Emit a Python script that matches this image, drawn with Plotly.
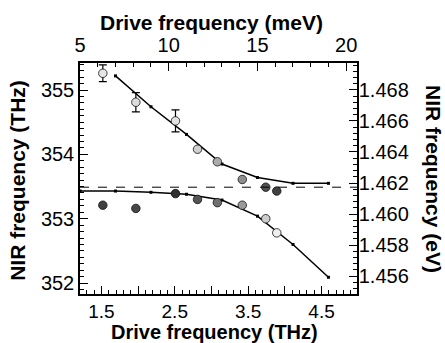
import plotly.graph_objects as go

# ---------------- data ----------------
# theory curves computed at drive energies 5..19 meV (converted to THz)
theory_upper_x = [1.693, 2.176, 2.660, 3.143, 3.627, 4.111, 4.594]
theory_upper_y = [355.22, 354.74, 354.31, 353.85, 353.64, 353.55, 353.55]
theory_lower_x = [1.209, 1.693, 2.176, 2.660, 3.143, 3.627, 4.111, 4.594]
theory_lower_y = [353.43, 353.43, 353.41, 353.38, 353.29, 353.04, 352.60, 352.09]

# measured sidebands
meas_x = [1.52, 1.97, 2.51, 2.81, 3.08, 3.42, 3.74, 3.89]
upper_y = [355.26, 354.81, 354.52, 354.08, 353.885, 353.61, 353.49, 353.43]
upper_err = [0.13, 0.15, 0.17]
lower_y = [353.21, 353.16, 353.39, 353.30, 353.25, 353.21, 353.00, 352.78]
upper_fill = ["#e6e6e6", "#dcdcdc", "#e2e2e2", "#cfcfcf", "#ababab", "#8f8f8f", "#505050", "#404040"]
lower_fill = ["#404040", "#474747", "#303030", "#555555", "#707070", "#9a9a9a", "#cdcdcd", "#efefef"]

bare_exciton_thz = 353.49

x_range_thz = [1.209, 4.983]
x_range_mev = [5.0, 20.61]
y_range_thz = [351.83, 355.42]
y_range_ev = [1.45484, 1.46974]

bottom_ticks = [1.5, 2.0, 2.5, 3.0, 3.5, 4.0, 4.5]
bottom_ticktext = ["1.5", "", "2.5", "", "3.5", "", "4.5"]
top_ticks = [5, 10, 15, 20]
left_ticks = [352, 353, 354, 355]
right_ticks = [1.456, 1.458, 1.460, 1.462, 1.464, 1.466, 1.468]

# ---------------- figure ----------------
FONT = "Liberation Sans, Arial, sans-serif"
fig = go.Figure()

fig.add_trace(go.Scatter(x=theory_upper_x, y=theory_upper_y, mode="lines+markers",
                         line=dict(color="black", width=1.5),
                         marker=dict(symbol="square", size=3, color="black"),
                         showlegend=False, hoverinfo="skip"))
fig.add_trace(go.Scatter(x=theory_lower_x, y=theory_lower_y, mode="lines+markers",
                         line=dict(color="black", width=1.5),
                         marker=dict(symbol="square", size=3, color="black"),
                         showlegend=False, hoverinfo="skip"))

n_err = len(upper_err)
fig.add_trace(go.Scatter(x=meas_x[:n_err], y=upper_y[:n_err], mode="markers",
                         error_y=dict(type="data", array=upper_err, color="black",
                                      thickness=1.2, width=4),
                         marker=dict(size=8.5, color=upper_fill[:n_err],
                                     line=dict(color="#111", width=0.8)),
                         showlegend=False))
fig.add_trace(go.Scatter(x=meas_x[n_err:], y=upper_y[n_err:], mode="markers",
                         marker=dict(size=8.5, color=upper_fill[n_err:],
                                     line=dict(color="#111", width=0.8)),
                         showlegend=False))
fig.add_trace(go.Scatter(x=meas_x, y=lower_y, mode="markers",
                         marker=dict(size=8.5, color=lower_fill,
                                     line=dict(color="#111", width=0.8)),
                         showlegend=False))

# invisible trace to activate secondary axes
fig.add_trace(go.Scatter(x=[x_range_mev[0]], y=[y_range_ev[0]], xaxis="x2", yaxis="y2",
                         mode="markers", marker=dict(opacity=0), showlegend=False,
                         hoverinfo="skip"))

fig.add_shape(type="line", xref="paper", x0=0, x1=1, yref="y",
              y0=bare_exciton_thz, y1=bare_exciton_thz,
              line=dict(color="black", width=1, dash="dash"))

axis_common = dict(showline=True, linecolor="black", linewidth=1.5, ticks="inside",
                   tickcolor="black", tickwidth=1.2, showgrid=False, zeroline=False,
                   automargin=False)
tick_font = dict(family=FONT, size=20, color="black")

fig.update_layout(
    width=445, height=343,
    margin=dict(l=80, r=88, t=63, b=49, autoexpand=False),
    paper_bgcolor="white", plot_bgcolor="white",
    xaxis=dict(range=x_range_thz, tickvals=bottom_ticks, ticktext=bottom_ticktext,
               ticklen=8, ticklabelstandoff=-1,
               tickfont=dict(family=FONT, size=19, color="black"),
               minor=dict(dtick=0.1, tick0=1.0, ticks="inside", ticklen=4,
                          tickcolor="black", tickwidth=1),
               **axis_common),
    xaxis2=dict(range=x_range_mev, overlaying="x", side="top", tickvals=top_ticks,
                ticklen=8, ticklabelstandoff=1, tickfont=tick_font,
                minor=dict(dtick=1, tick0=5, ticks="inside", ticklen=4,
                           tickcolor="black", tickwidth=1),
                **axis_common),
    yaxis=dict(range=y_range_thz, tickvals=left_ticks, ticklen=8, tickfont=tick_font,
               minor=dict(dtick=0.1, tick0=352, ticks="inside", ticklen=4,
                          tickcolor="black", tickwidth=1),
               **axis_common),
    yaxis2=dict(range=y_range_ev, overlaying="y", side="right", tickvals=right_ticks,
                tickformat=".3f", ticklen=8, ticklabelstandoff=-4, tickfont=tick_font,
                minor=dict(dtick=0.0004, tick0=1.456, ticks="inside", ticklen=4,
                           tickcolor="black", tickwidth=1),
                **axis_common),
)

title_font = dict(family=FONT, size=21, color="black")
fig.add_annotation(text="<b>Drive frequency (meV)</b>", xref="paper", yref="paper",
                   x=0.473, y=1.177, showarrow=False, font=title_font,
                   xanchor="center", yanchor="middle")
fig.add_annotation(text="<b>Drive frequency (THz)</b>", xref="paper", yref="paper",
                   x=0.484, y=-0.166, showarrow=False,
                   font=dict(family=FONT, size=20, color="black"),
                   xanchor="center", yanchor="middle")
fig.add_annotation(text="<b>NIR frequency (THz)</b>", xref="paper", yref="paper",
                   x=-0.224, y=0.494, showarrow=False, font=title_font, textangle=-90,
                   xanchor="center", yanchor="middle")
fig.add_annotation(text="<b>NIR frequency (eV)</b>", xref="paper", yref="paper",
                   x=1.274, y=0.498, showarrow=False, font=title_font, textangle=90,
                   xanchor="center", yanchor="middle")

fig.write_html("out.html", config={"displayModeBar": False},
               post_script="document.body.style.margin='0';")
